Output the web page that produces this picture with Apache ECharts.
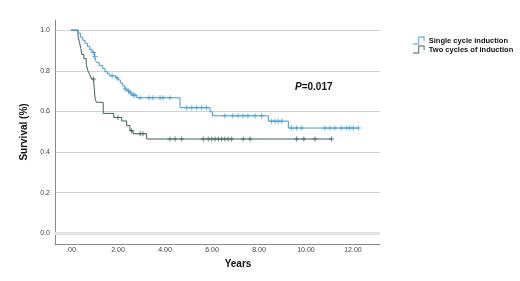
<!DOCTYPE html>
<html>
<head>
<meta charset="utf-8">
<script src="https://cdn.jsdelivr.net/npm/echarts@6/dist/echarts.min.js"></script>
<style>
	html, body { margin: 0; padding: 0; background: #fff; }
	#chart { width: 520px; height: 281px; }
</style>
</head>
<body>
<div id="chart"></div>
<script>
	// Kaplan-Meier steps: time (years) and survival after that time
	const singleTimes = [0, 0.3, 0.4, 0.5, 0.6, 0.7, 0.8, 0.9, 1.0, 1.05, 1.1, 1.2, 1.35, 1.45, 1.55, 1.65, 1.9, 2.0, 2.1, 2.2, 2.3, 2.4, 2.5, 2.6, 2.8, 4.64, 5.92, 6.02, 8.4, 9.25, 12.23];
	const singleSurv = [1.0, 0.985, 0.965, 0.95, 0.935, 0.92, 0.905, 0.89, 0.87, 0.85, 0.84, 0.825, 0.81, 0.795, 0.785, 0.775, 0.765, 0.755, 0.74, 0.725, 0.71, 0.70, 0.69, 0.68, 0.667, 0.618, 0.598, 0.578, 0.552, 0.518, 0.518];
	const singleCensor = [0.95, 1.02, 1.75, 1.96, 2.3, 2.45, 2.55, 2.65, 2.72, 2.94, 3.32, 3.49, 3.79, 3.91, 4.21, 4.92, 5.14, 5.35, 5.56, 5.77, 6.55, 6.89, 7.11, 7.32, 7.53, 7.83, 8.11, 8.54, 8.68, 8.82, 8.97, 9.39, 9.6, 9.82, 10.81, 11.02, 11.23, 11.52, 11.73, 11.87, 12.01, 12.23];

	const twoTimes = [0, 0.3, 0.36, 0.42, 0.46, 0.55, 0.65, 0.72, 0.8, 0.88, 0.97, 1.0, 1.03, 1.08, 1.37, 1.82, 2.16, 2.37, 2.51, 2.64, 3.22, 11.09];
	const twoSurv = [1.0, 0.97, 0.94, 0.91, 0.88, 0.86, 0.83, 0.80, 0.78, 0.76, 0.74, 0.70, 0.66, 0.645, 0.59, 0.57, 0.553, 0.53, 0.505, 0.49, 0.464, 0.464];
	const twoCensor = [0.95, 2.0, 2.58, 2.94, 3.06, 4.21, 4.43, 4.71, 5.63, 5.84, 5.99, 6.13, 6.27, 6.41, 6.55, 6.69, 6.84, 7.33, 7.62, 9.6, 9.91, 10.38, 11.09];

	const xTicks = [0, 2, 4, 6, 8, 10, 12];
	const yTicks = [0, 0.2, 0.4, 0.6, 0.8, 1.0];
	const groupNames = ['Single cycle induction', 'Two cycles of induction'];
	const pValue = '0.017';

	const blue = '#3a9bd8';
	const dark = '#3e605c';
	const plus = 'path://M2,0h1v5h-1z M0,2h5v1h-5z';

	function survAt(times, surv, t) {
		let s = surv[0];
		for (let i = 0; i < times.length; i++) {
			if (times[i] <= t + 1e-9) s = surv[i];
		}
		return s;
	}
	function steps(times, surv) {
		return times.map((t, i) => [t, surv[i]]);
	}
	function marks(times, surv, censor) {
		return censor.map(t => [t, survAt(times, surv, t)]);
	}

	const chart = echarts.init(document.getElementById('chart'));
	chart.setOption({
		animation: false,
		grid: { left: 55, right: 140, top: 20, bottom: 37 },
		legend: {
			data: groupNames,
			orient: 'vertical',
			left: 408,
			top: 31,
			itemGap: 0,
			itemWidth: 12,
			itemHeight: 8,
			icon: 'path://M0,9h6v-8h7v5h-1v-4h-5v8h-7z',
			textStyle: { fontSize: 7.5, fontWeight: 'bold', color: '#111', fontFamily: 'Liberation Sans', lineHeight: 9, padding: [0, 0, 0, -1] }
		},
		xAxis: {
			type: 'value',
			min: -0.68,
			max: 13.15,
			name: 'Years',
			nameLocation: 'middle',
			nameGap: 15,
			nameTextStyle: { fontSize: 10, fontWeight: 'bold', color: '#111', fontFamily: 'Liberation Sans', padding: [0, 0, 0, 41] },
			axisLine: { show: true, onZero: false, lineStyle: { color: '#8a8a8a' } },
			axisTick: { show: false, customValues: xTicks },
			splitLine: { show: false },
			axisLabel: {
				customValues: xTicks,
				margin: 3,
				fontSize: 7,
				color: '#444',
				fontFamily: 'Liberation Sans',
				formatter: v => v === 0 ? '.00' : v.toFixed(2)
			}
		},
		yAxis: {
			type: 'value',
			min: -0.053,
			max: 1.05,
			name: 'Survival (%)',
			nameLocation: 'middle',
			nameGap: 19,
			nameTextStyle: { fontSize: 10, fontWeight: 'bold', color: '#111', fontFamily: 'Liberation Sans' },
			axisLine: { show: true, onZero: false, lineStyle: { color: '#8a8a8a' } },
			axisTick: { show: false, customValues: yTicks },
			splitLine: { show: true, lineStyle: { color: '#d2d2d2', width: 1 } },
			axisLabel: {
				customValues: yTicks,
				margin: 5,
				fontSize: 7,
				color: '#444',
				fontFamily: 'Liberation Sans',
				formatter: v => v.toFixed(1)
			}
		},
		graphic: [{
			type: 'text',
			left: 295,
			top: 82,
			style: {
				text: '{i|P}{n|=' + pValue + '}',
				rich: {
					i: { fontSize: 10, fontWeight: 'bold', fontStyle: 'italic', fill: '#111', fontFamily: 'Liberation Sans' },
					n: { fontSize: 10, fontWeight: 'bold', fill: '#111', fontFamily: 'Liberation Sans' }
				}
			}
		}],
		series: [
			{
				name: groupNames[0],
				type: 'line',
				step: 'end',
				showSymbol: false,
				color: blue,
				lineStyle: { width: 1, color: blue },
				data: steps(singleTimes, singleSurv),
				z: 3
			},
			{
				name: groupNames[1],
				type: 'line',
				step: 'end',
				showSymbol: false,
				color: dark,
				lineStyle: { width: 1, color: dark },
				data: steps(twoTimes, twoSurv),
				markLine: {
					silent: true,
					symbol: 'none',
					label: { show: false },
					lineStyle: { color: '#e2e2e2', width: 3, type: 'solid' },
					data: [{ yAxis: 0 }]
				},
				z: 2
			},
			{
				name: 'single-censored',
				type: 'scatter',
				symbol: plus,
				symbolSize: 5,
				itemStyle: { color: blue },
				data: marks(singleTimes, singleSurv, singleCensor),
				z: 4
			},
			{
				name: 'two-censored',
				type: 'scatter',
				symbol: plus,
				symbolSize: 5,
				itemStyle: { color: dark },
				data: marks(twoTimes, twoSurv, twoCensor),
				z: 4
			}
		]
	});
</script>
</body>
</html>
